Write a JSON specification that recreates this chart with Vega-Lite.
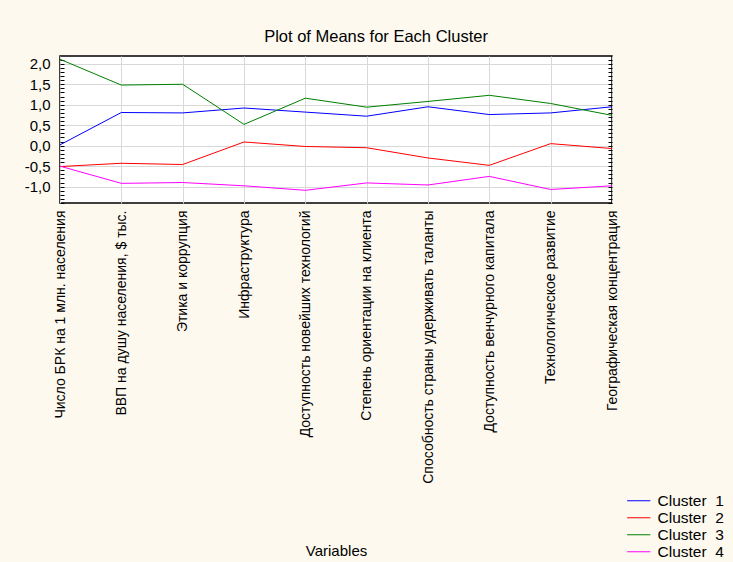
{
  "$schema": "https://vega.github.io/schema/vega-lite/v6.json",
  "width": 552,
  "height": 147,
  "autosize": {"type": "none"},
  "padding": {"left": 60, "top": 56, "right": 121, "bottom": 359},
  "background": "#fdf9ef",
  "config": {
    "font": "Liberation Sans",
    "view": {"fill": "#ffffff", "stroke": "#000000", "strokeWidth": 1.5}
  },
  "title": {"text": "Plot of Means for Each Cluster", "fontSize": 16.5, "fontWeight": "normal", "color": "#000000", "anchor": "middle", "offset": 7, "dx": 40},
  "data": {"values": [
    {"variable": "Число БРК на 1 млн. населения", "cluster": "Cluster \u00a01", "mean": 0.02},
    {"variable": "ВВП на душу населения, $ тыс.", "cluster": "Cluster \u00a01", "mean": 0.81},
    {"variable": "Этика и коррупция", "cluster": "Cluster \u00a01", "mean": 0.80},
    {"variable": "Инфраструктура", "cluster": "Cluster \u00a01", "mean": 0.92},
    {"variable": "Доступность новейших технологий", "cluster": "Cluster \u00a01", "mean": 0.82},
    {"variable": "Степень ориентации на клиента", "cluster": "Cluster \u00a01", "mean": 0.72},
    {"variable": "Способность страны удерживать таланты", "cluster": "Cluster \u00a01", "mean": 0.95},
    {"variable": "Доступность венчурного капитала", "cluster": "Cluster \u00a01", "mean": 0.76},
    {"variable": "Технологическое развитие", "cluster": "Cluster \u00a01", "mean": 0.80},
    {"variable": "Географическая концентрация", "cluster": "Cluster \u00a01", "mean": 0.95},
    {"variable": "Число БРК на 1 млн. населения", "cluster": "Cluster \u00a02", "mean": -0.51},
    {"variable": "ВВП на душу населения, $ тыс.", "cluster": "Cluster \u00a02", "mean": -0.43},
    {"variable": "Этика и коррупция", "cluster": "Cluster \u00a02", "mean": -0.46},
    {"variable": "Инфраструктура", "cluster": "Cluster \u00a02", "mean": 0.09},
    {"variable": "Доступность новейших технологий", "cluster": "Cluster \u00a02", "mean": -0.02},
    {"variable": "Степень ориентации на клиента", "cluster": "Cluster \u00a02", "mean": -0.05},
    {"variable": "Способность страны удерживать таланты", "cluster": "Cluster \u00a02", "mean": -0.30},
    {"variable": "Доступность венчурного капитала", "cluster": "Cluster \u00a02", "mean": -0.48},
    {"variable": "Технологическое развитие", "cluster": "Cluster \u00a02", "mean": 0.05},
    {"variable": "Географическая концентрация", "cluster": "Cluster \u00a02", "mean": -0.07},
    {"variable": "Число БРК на 1 млн. населения", "cluster": "Cluster \u00a03", "mean": 2.11},
    {"variable": "ВВП на душу населения, $ тыс.", "cluster": "Cluster \u00a03", "mean": 1.48},
    {"variable": "Этика и коррупция", "cluster": "Cluster \u00a03", "mean": 1.50},
    {"variable": "Инфраструктура", "cluster": "Cluster \u00a03", "mean": 0.52},
    {"variable": "Доступность новейших технологий", "cluster": "Cluster \u00a03", "mean": 1.16},
    {"variable": "Степень ориентации на клиента", "cluster": "Cluster \u00a03", "mean": 0.94},
    {"variable": "Способность страны удерживать таланты", "cluster": "Cluster \u00a03", "mean": 1.08},
    {"variable": "Доступность венчурного капитала", "cluster": "Cluster \u00a03", "mean": 1.23},
    {"variable": "Технологическое развитие", "cluster": "Cluster \u00a03", "mean": 1.03},
    {"variable": "Географическая концентрация", "cluster": "Cluster \u00a03", "mean": 0.74},
    {"variable": "Число БРК на 1 млн. населения", "cluster": "Cluster \u00a04", "mean": -0.50},
    {"variable": "ВВП на душу населения, $ тыс.", "cluster": "Cluster \u00a04", "mean": -0.92},
    {"variable": "Этика и коррупция", "cluster": "Cluster \u00a04", "mean": -0.90},
    {"variable": "Инфраструктура", "cluster": "Cluster \u00a04", "mean": -0.98},
    {"variable": "Доступность новейших технологий", "cluster": "Cluster \u00a04", "mean": -1.09},
    {"variable": "Степень ориентации на клиента", "cluster": "Cluster \u00a04", "mean": -0.91},
    {"variable": "Способность страны удерживать таланты", "cluster": "Cluster \u00a04", "mean": -0.96},
    {"variable": "Доступность венчурного капитала", "cluster": "Cluster \u00a04", "mean": -0.75},
    {"variable": "Технологическое развитие", "cluster": "Cluster \u00a04", "mean": -1.07},
    {"variable": "Географическая концентрация", "cluster": "Cluster \u00a04", "mean": -0.98}
  ]},
  "encoding": {
    "x": {
      "field": "variable", "type": "nominal", "sort": null,
      "scale": {"type": "point", "padding": 0},
      "axis": {
        "title": "Variables", "titleFontSize": 15, "titleFontWeight": "normal", "titleColor": "#000000", "titleY": 340, "titleBaseline": "top",
        "labelAngle": -90, "labelFontSize": 14, "labelColor": "#000000", "labelPadding": 7, "labelLimit": 400,
        "ticks": false, "domain": false, "grid": true, "gridColor": "#d8d8d8"
      }
    }
  },
  "layer": [
    {
      "mark": {"type": "line", "strokeWidth": 1},
      "encoding": {
        "y": {
          "field": "mean", "type": "quantitative",
          "scale": {"domain": [-1.4, 2.19], "nice": false, "zero": false},
          "axis": {
            "title": null, "domain": false,
            "values": [-1.4, -1.3, -1.2, -1.1, -1.0, -0.9, -0.8, -0.7, -0.6, -0.5, -0.4, -0.3, -0.2, -0.1, 0, 0.1, 0.2, 0.3, 0.4, 0.5, 0.6, 0.7, 0.8, 0.9, 1.0, 1.1, 1.2, 1.3, 1.4, 1.5, 1.6, 1.7, 1.8, 1.9, 2.0, 2.1],
            "labelExpr": "abs(datum.value*2-round(datum.value*2))<0.01 ? replace(replace(format(datum.value,'.1f'),'.',','),'−','-') : ''",
            "labelOverlap": false, "labelFontSize": 15, "labelColor": "#000000", "labelPadding": 14,
            "tickSize": -4, "tickColor": "#000000",
            "grid": true, "gridColor": "#d8d8d8",
            "gridOpacity": {"condition": {"test": "abs(datum.value*2-round(datum.value*2))<0.01", "value": 1}, "value": 0}
          }
        },
        "color": {
          "field": "cluster", "type": "nominal",
          "scale": {"domain": ["Cluster \u00a01", "Cluster \u00a02", "Cluster \u00a03", "Cluster \u00a04"], "range": ["#0000ff", "#ff0000", "#008000", "#ff00ff"]},
          "legend": {
            "orient": "none", "legendX": 571, "legendY": 437, "title": null,
            "symbolType": "M-2.9,0H2.9", "symbolSize": 64, "symbolStrokeWidth": 1,
            "labelFontSize": 15.5, "labelColor": "#000000", "rowPadding": 0, "labelOffset": 11
          }
        }
      }
    },
    {
      "mark": {"type": "point", "opacity": 0},
      "encoding": {
        "y": {
          "field": "mean", "type": "quantitative",
          "scale": {"domain": [-1.4, 2.19], "nice": false, "zero": false},
          "axis": {
            "orient": "right", "title": null, "domain": false, "labels": false, "grid": false,
            "values": [-1.4, -1.3, -1.2, -1.1, -1.0, -0.9, -0.8, -0.7, -0.6, -0.5, -0.4, -0.3, -0.2, -0.1, 0, 0.1, 0.2, 0.3, 0.4, 0.5, 0.6, 0.7, 0.8, 0.9, 1.0, 1.1, 1.2, 1.3, 1.4, 1.5, 1.6, 1.7, 1.8, 1.9, 2.0, 2.1],
            "tickSize": -4, "tickColor": "#000000"
          }
        }
      }
    }
  ],
  "resolve": {"axis": {"y": "independent"}}
}
